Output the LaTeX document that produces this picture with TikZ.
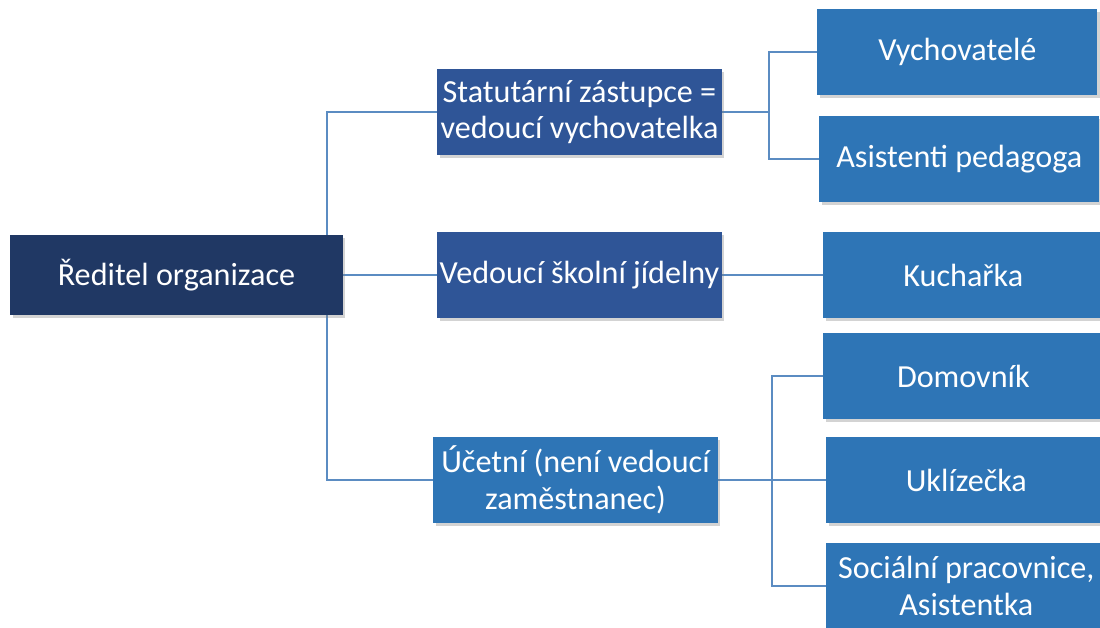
\documentclass[tikz,border=0pt]{standalone}
\usepackage{fontspec}
\setmainfont{Carlito}
\usepackage{tikz}
\usetikzlibrary{positioning, shadows, backgrounds}

\definecolor{rootblue}{HTML}{203864}
\definecolor{headblue}{HTML}{2F5597}
\definecolor{staffblue}{HTML}{2E75B6}
\definecolor{linkblue}{HTML}{5B8CC2}

\begin{document}
\begin{tikzpicture}[
    x=0.02cm, y=-0.02cm,
    unit/.style={rectangle, fill=staffblue, text=white, align=center, inner sep=0pt,
        font=\fontsize{18.3}{20.8}\selectfont,
        drop shadow={shadow xshift=0.05cm, shadow yshift=-0.06cm, opacity=0.35}},
    director/.style={unit, fill=rootblue, minimum width=6.66cm, minimum height=1.6cm},
    head/.style={unit, fill=headblue, minimum width=5.7cm, minimum height=1.72cm},
    clerk/.style={unit, minimum width=5.7cm, minimum height=1.72cm},
    staff/.style={unit, minimum width=5.6cm, minimum height=1.72cm},
    link/.style={draw=linkblue, line width=1.5pt}
]
\useasboundingbox (0,0) rectangle (1100,628);

\node[director] (reditel) at (176.5,275) {Ředitel organizace};

\node[head] (statutar) at (579.5,112) {Statutární zástupce =\\vedoucí vychovatelka};
\node[head] (jidelna) at (579.5,275) {Vedoucí školní jídelny};
\node[clerk] (ucetni) at (575.5,480) {Účetní (není vedoucí\\zaměstnanec)};

\node[staff, anchor=west] (vychovatele) at (817,52) {Vychovatelé};
\node[staff, anchor=west] (asistenti) at (819,159) {Asistenti pedagoga};
\node[staff, anchor=west] (kucharka) at (823,275) {Kuchařka};
\node[staff, anchor=west] (domovnik) at (823,376) {Domovník};
\node[staff, anchor=west] (uklizecka) at (826,480) {Uklízečka};
\node[staff, anchor=west] (socialni) at (826,586) {Sociální pracovnice,\\Asistentka};

\coordinate (trunk) at (327,275);
\coordinate (forkA) at (769,112);
\coordinate (forkB) at (772,480);

% lines behind the boxes
\begin{scope}[on background layer]
\draw[link] (statutar.west) -| (trunk) |- (ucetni.west);
\draw[link] (reditel.east) -- (jidelna.west);
\draw[link] (jidelna.east) -- (kucharka.west);
\draw[link] (statutar.east) -- (forkA);
\draw[link] (vychovatele.west) -| (forkA) |- (asistenti.west);
\draw[link] (ucetni.east) -- (forkB);
\draw[link] (domovnik.west) -| (forkB) |- (socialni.west);
\draw[link] (forkB) -- (uklizecka.west);
\end{scope}
\end{tikzpicture}
\end{document}
